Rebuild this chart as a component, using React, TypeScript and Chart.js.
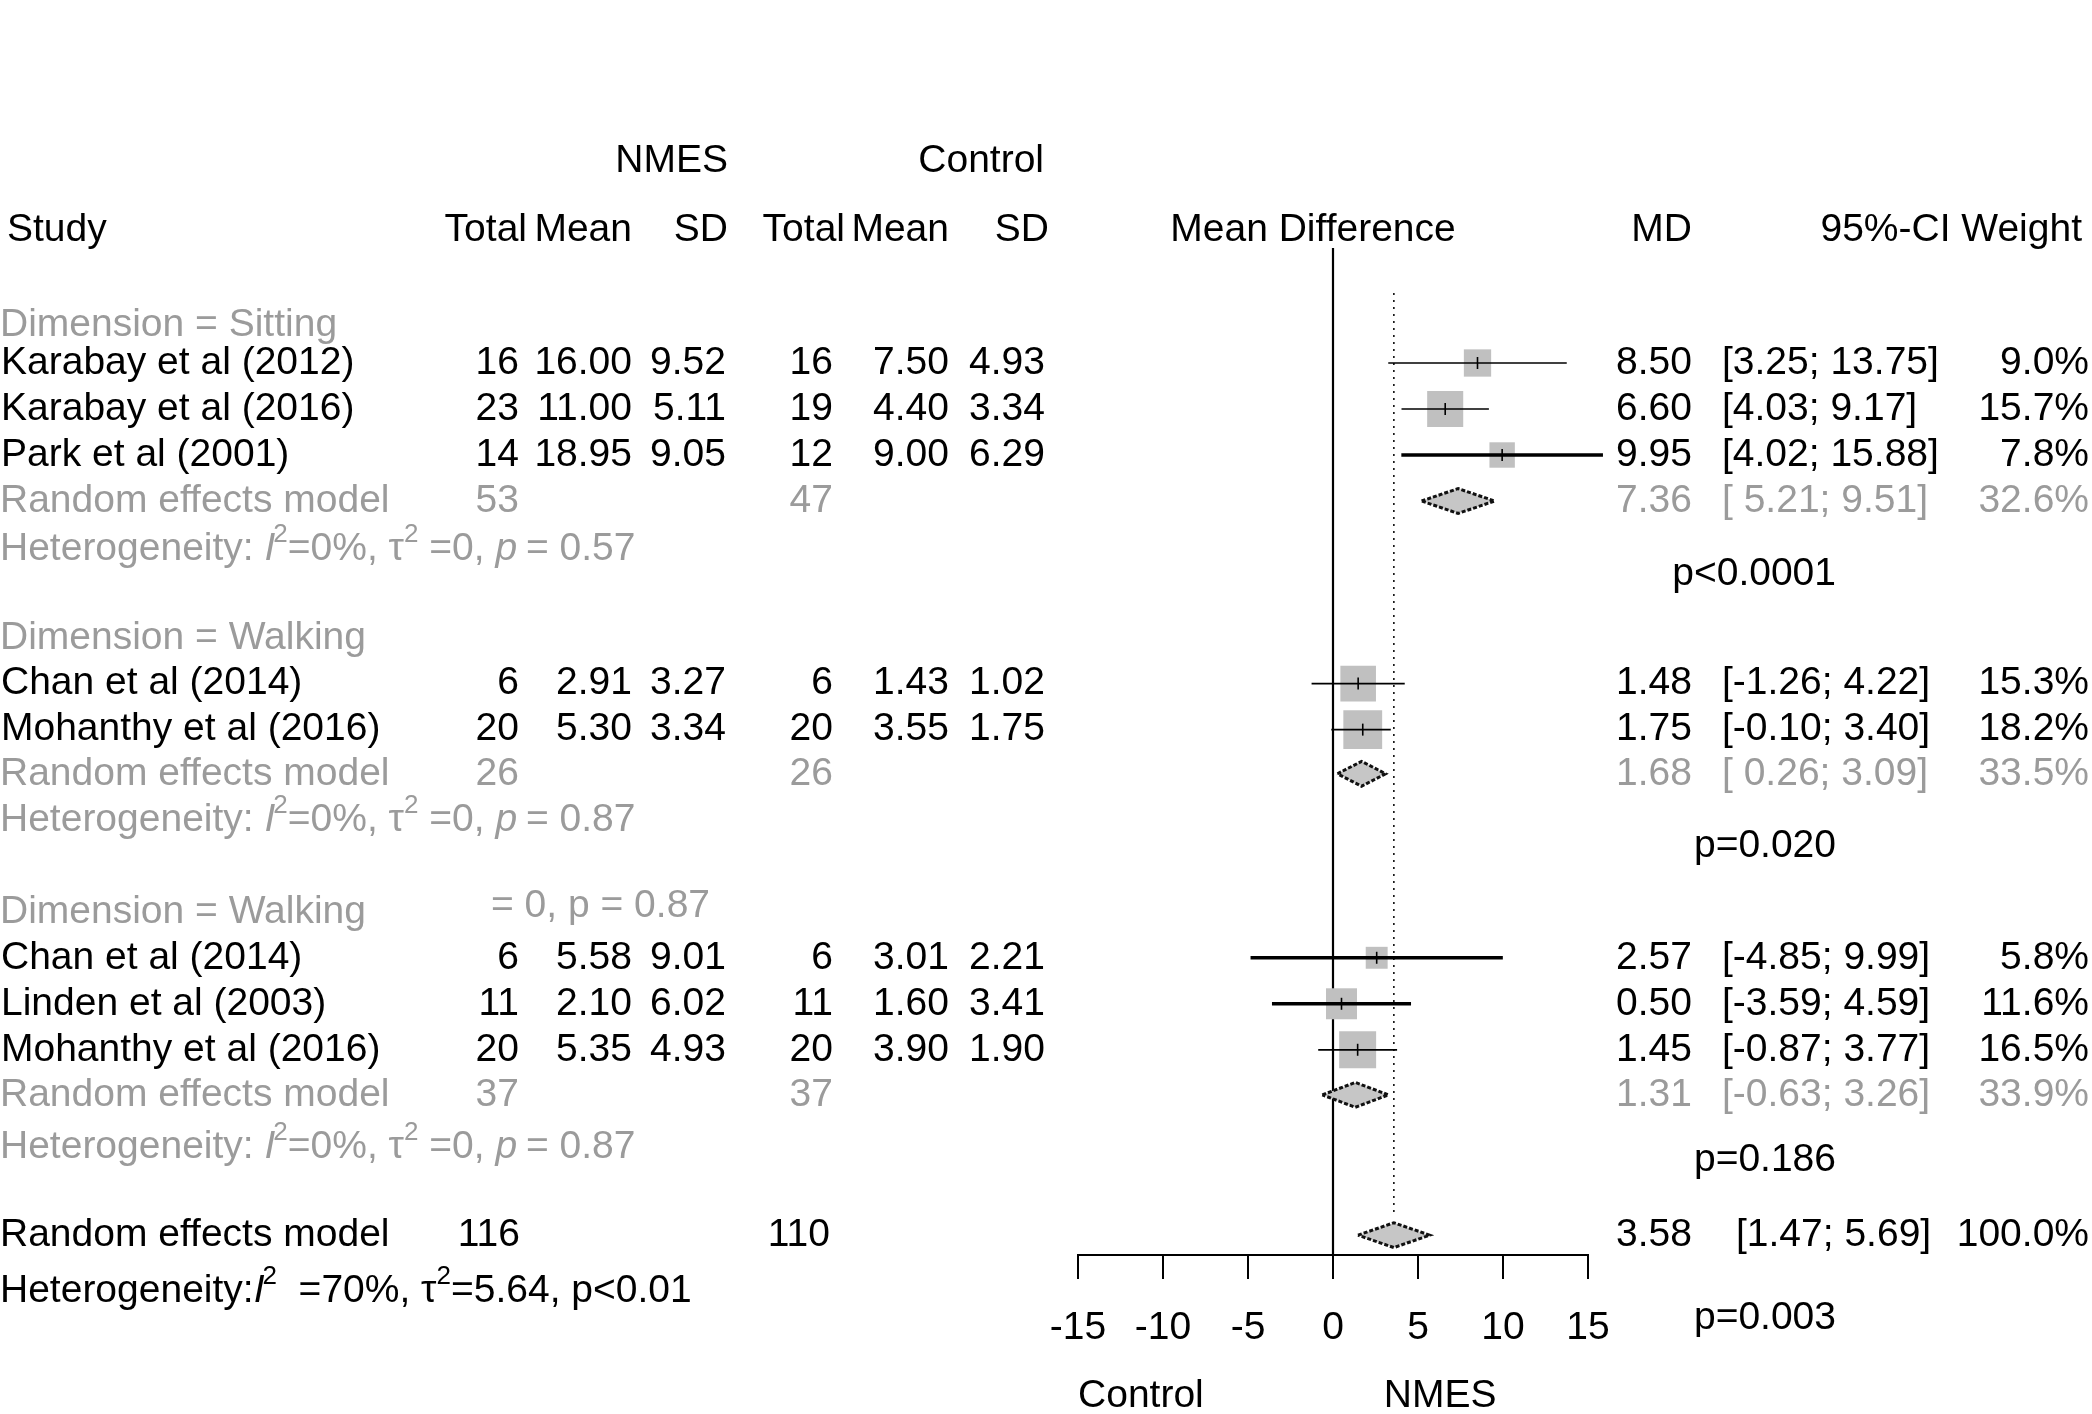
import React, { useEffect, useRef } from "react";
import { Chart, registerables } from "chart.js";

Chart.register(...registerables);

// ---------------- data ----------------
const groupLabels = ["Dimension = Sitting", "Dimension = Walking", "Dimension = Walking"];
const studyNames = [
  "Karabay et al (2012)",
  "Karabay et al (2016)",
  "Park et al (2001)",
  "Chan et al (2014)",
  "Mohanthy et al (2016)",
  "Chan et al (2014)",
  "Linden et al (2003)",
  "Mohanthy et al (2016)",
];
const studyGroup = [0, 0, 0, 1, 1, 2, 2, 2];
const nmesTotal = [16, 23, 14, 6, 20, 6, 11, 20];
const nmesMean = [16.0, 11.0, 18.95, 2.91, 5.3, 5.58, 2.1, 5.35];
const nmesSD = [9.52, 5.11, 9.05, 3.27, 3.34, 9.01, 6.02, 4.93];
const ctrlTotal = [16, 19, 12, 6, 20, 6, 11, 20];
const ctrlMean = [7.5, 4.4, 9.0, 1.43, 3.55, 3.01, 1.6, 3.9];
const ctrlSD = [4.93, 3.34, 6.29, 1.02, 1.75, 2.21, 3.41, 1.9];
const md = [8.5, 6.6, 9.95, 1.48, 1.75, 2.57, 0.5, 1.45];
const ciLow = [3.25, 4.03, 4.02, -1.26, -0.1, -4.85, -3.59, -0.87];
const ciHigh = [13.75, 9.17, 15.88, 4.22, 3.4, 9.99, 4.59, 3.77];
const weight = [9.0, 15.7, 7.8, 15.3, 18.2, 5.8, 11.6, 16.5];
const thickCI = [false, false, true, false, false, true, true, false];

const subNmesTotal = [53, 26, 37];
const subCtrlTotal = [47, 26, 37];
const subMd = [7.36, 1.68, 1.31];
const subLow = [5.21, 0.26, -0.63];
const subHigh = [9.51, 3.09, 3.26];
const subWeight = [32.6, 33.5, 33.9];
const subI2 = [0, 0, 0];
const subTau2 = [0, 0, 0];
const subHetP = ["0.57", "0.87", "0.87"];
const subPText = ["p<0.0001", "p=0.020", "p=0.186"];

const overallNmesTotal = 116;
const overallCtrlTotal = 110;
const overallMd = 3.58;
const overallLow = 1.47;
const overallHigh = 5.69;
const overallWeight = 100.0;
const overallI2 = 70;
const overallTau2 = 5.64;
const overallHetP = "p<0.01";
const overallPText = "p=0.003";

const xTicks = [-15, -10, -5, 0, 5, 10, 15];

// ---------------- layout ----------------
const W = 2092;
const H = 1414;
const FONT = '"Liberation Sans", Arial, Helvetica, sans-serif';
const FS = 39;
const GRAY = "#9b9b9b";
const ROW_PX = 46;
const ROW0_PX = 363;
const AXIS_PX = 1255;
const Y_MIN = -ROW0_PX / ROW_PX;
const Y_MAX = (AXIS_PX - ROW0_PX) / ROW_PX;

const groupLayout = [
  { header: -0.83, first: 0, rem: 3, het: 4.04, p: 4.59 },
  { header: 5.98, first: 6.97, rem: 8.93, het: 9.93, p: 10.5 },
  { header: 11.93, first: 12.93, rem: 15.91, het: 17.05, p: 17.34 },
];
const overallLayout = { rem: 18.96, het: 20.17, p: 20.77 };
const ROW_NMES_HDR = -4.38;
const ROW_HDR = -2.88;
const COL = {
  name: 1,
  nTot: 519,
  nMean: 632,
  nSD: 726,
  cTot: 833,
  cMean: 949,
  cSD: 1045,
  md: 1692,
  ci: 1722,
  ciOverall: 1736,
  w: 2089,
  p: 1836,
};

function studyRow(i: number) {
  const g = studyGroup[i];
  let k = 0;
  for (let j = 0; j < i; j++) if (studyGroup[j] === g) k++;
  return groupLayout[g].first + k;
}

const f2 = (v: number) => v.toFixed(2);

type Seg = { t: string; it?: boolean; sup?: boolean };

function hetSegs(i2: number, tau2: number, p: string): Seg[] {
  return [
    { t: "Heterogeneity: " },
    { t: "I", it: true },
    { t: "2", sup: true },
    { t: `=${i2}%, τ` },
    { t: "2", sup: true },
    { t: ` =${tau2}, ` },
    { t: "p", it: true },
    { t: ` = ${p}` },
  ];
}

function overallHetSegs(): Seg[] {
  return [
    { t: "Heterogeneity:" },
    { t: "I", it: true },
    { t: "2", sup: true },
    { t: `  =${overallI2}%, τ` },
    { t: "2", sup: true },
    { t: `=${overallTau2}, ${overallHetP}` },
  ];
}

const textPlugin = {
  id: "forestText",
  afterDraw(chart: any) {
    const ctx: CanvasRenderingContext2D = chart.ctx;
    const ys = chart.scales.y;
    const py = (r: number) => ys.getPixelForValue(r);
    ctx.save();
    ctx.textBaseline = "middle";
    const txt = (s: string, x: number, r: number, align: CanvasTextAlign, color = "#000") => {
      ctx.font = `${FS}px ${FONT}`;
      ctx.fillStyle = color;
      ctx.textAlign = align;
      ctx.fillText(s, x, py(r));
    };
    const rich = (segs: Seg[], x: number, r: number, color: string) => {
      let cx = x;
      ctx.textAlign = "left";
      ctx.fillStyle = color;
      for (const s of segs) {
        const size = s.sup ? Math.round(FS * 0.66) : FS;
        ctx.font = `${s.it ? "italic " : ""}${size}px ${FONT}`;
        const dy = s.sup ? -FS * 0.36 : 0;
        ctx.fillText(s.t, cx, py(r) + dy);
        cx += ctx.measureText(s.t).width - (s.it ? 2 : 0);
      }
    };

    // headers
    txt("NMES", COL.nSD + 2, ROW_NMES_HDR, "right");
    txt("Control", COL.cSD - 1, ROW_NMES_HDR, "right");
    txt("Study", 7, ROW_HDR, "left");
    txt("Total", 527, ROW_HDR, "right");
    txt("Mean", COL.nMean, ROW_HDR, "right");
    txt("SD", 728, ROW_HDR, "right");
    txt("Total", 845, ROW_HDR, "right");
    txt("Mean", COL.cMean, ROW_HDR, "right");
    txt("SD", 1049, ROW_HDR, "right");
    txt("Mean Difference", 1313, ROW_HDR, "center");
    txt("MD", COL.md, ROW_HDR, "right");
    txt("95%-CI Weight", 2082, ROW_HDR, "right");

    // groups
    groupLabels.forEach((lab, g) => {
      const L = groupLayout[g];
      txt(lab, 0, L.header, "left", GRAY);
      txt("Random effects model", 0, L.rem, "left", GRAY);
      txt(String(subNmesTotal[g]), COL.nTot, L.rem, "right", GRAY);
      txt(String(subCtrlTotal[g]), COL.cTot, L.rem, "right", GRAY);
      txt(f2(subMd[g]), COL.md, L.rem, "right", GRAY);
      txt(`[${f2(subLow[g]).padStart(5, " ")}; ${f2(subHigh[g])}]`, COL.ci, L.rem, "left", GRAY);
      txt(`${subWeight[g].toFixed(1)}%`, COL.w, L.rem, "right", GRAY);
      rich(hetSegs(subI2[g], subTau2[g], subHetP[g]), 0, L.het, GRAY);
      txt(subPText[g], COL.p, L.p, "right");
    });
    // stray fragment beside the third group header
    txt("= 0, p = 0.87", 491, groupLayout[2].header - 0.13, "left", GRAY);

    // studies
    studyNames.forEach((name, i) => {
      const r = studyRow(i);
      txt(name, COL.name, r, "left");
      txt(String(nmesTotal[i]), COL.nTot, r, "right");
      txt(f2(nmesMean[i]), COL.nMean, r, "right");
      txt(f2(nmesSD[i]), COL.nSD, r, "right");
      txt(String(ctrlTotal[i]), COL.cTot, r, "right");
      txt(f2(ctrlMean[i]), COL.cMean, r, "right");
      txt(f2(ctrlSD[i]), COL.cSD, r, "right");
      txt(f2(md[i]), COL.md, r, "right");
      txt(`[${f2(ciLow[i])}; ${f2(ciHigh[i])}]`, COL.ci, r, "left");
      txt(`${weight[i].toFixed(1)}%`, COL.w, r, "right");
    });

    // overall
    const O = overallLayout;
    txt("Random effects model", 0, O.rem, "left");
    txt(String(overallNmesTotal), 520, O.rem, "right");
    txt(String(overallCtrlTotal), 830, O.rem, "right");
    txt(f2(overallMd), COL.md, O.rem, "right");
    txt(`[${f2(overallLow)}; ${f2(overallHigh)}]`, COL.ciOverall, O.rem, "left");
    txt(`${overallWeight.toFixed(1)}%`, COL.w, O.rem, "right");
    rich(overallHetSegs(), 0, O.het, "#000");
    txt(overallPText, COL.p, O.p, "right");

    // axis side labels
    const xs = chart.scales.x;
    const axisLabelRow = Y_MAX + 3.06;
    txt("Control", xs.getPixelForValue(-11.3), axisLabelRow, "center");
    txt("NMES", xs.getPixelForValue(6.3), axisLabelRow, "center");
    ctx.restore();
  },
};

export default function App() {
  const ref = useRef<HTMLCanvasElement | null>(null);
  useEffect(() => {
    if (!ref.current) return;
    const studyPts = md.map((m, i) => ({ x: m, y: studyRow(i) }));
    const ciSets = md.map((_, i) => ({
      label: `ci${i}`,
      data: [
        { x: ciLow[i], y: studyRow(i) },
        { x: ciHigh[i], y: studyRow(i) },
      ],
      borderColor: "#000",
      borderWidth: thickCI[i] ? 3.6 : 1.7,
      pointRadius: 0,
      fill: false,
      clip: false as any,
      order: 4,
    }));
    const DH = 0.27;
    const diamond = (lo: number, m: number, hi: number, r: number, label: string) => ({
      label,
      data: [
        { x: lo, y: r },
        { x: m, y: r - DH },
        { x: hi, y: r },
        { x: m, y: r + DH },
        { x: lo, y: r },
      ],
      borderColor: "#111",
      borderWidth: 3,
      borderDash: [4, 2],
      backgroundColor: "#c6c6c6",
      fill: "shape",
      pointRadius: 0,
      clip: false as any,
      order: 4,
    });
    const diamonds = subMd.map((m, g) => diamond(subLow[g], m, subHigh[g], groupLayout[g].rem, `sub${g}`));
    diamonds.push(diamond(overallLow, overallMd, overallHigh, overallLayout.rem, "overall"));

    const chart = new Chart(ref.current, {
      type: "line",
      data: {
        datasets: [
          {
            label: "ticks",
            data: studyPts,
            showLine: false,
            pointStyle: "line",
            pointRotation: 90,
            pointRadius: 6,
            pointBorderWidth: 1.6,
            pointBorderColor: "#000",
            clip: false as any,
            order: 1,
          } as any,
          ...ciSets,
          ...diamonds,
          {
            label: "squares",
            data: studyPts,
            showLine: false,
            pointStyle: "rect",
            pointRadius: weight.map((w) => (9.1 * Math.sqrt(w)) / Math.SQRT2),
            pointBackgroundColor: "#c0c0c0",
            pointBorderWidth: 0,
            clip: false as any,
            order: 8,
          } as any,
          {
            label: "zero",
            data: [
              { x: 0, y: -2.5 },
              { x: 0, y: Y_MAX },
            ],
            borderColor: "#000",
            borderWidth: 2.2,
            pointRadius: 0,
            clip: false as any,
            order: 10,
          },
          {
            label: "overallRef",
            data: [
              { x: overallMd, y: -1.52 },
              { x: overallMd, y: 18.5 },
            ],
            borderColor: "#000",
            borderWidth: 1.5,
            borderDash: [2, 5],
            pointRadius: 0,
            clip: false as any,
            order: 10,
          },
        ] as any,
      },
      options: {
        animation: false,
        responsive: false,
        devicePixelRatio: 1,
        events: [],
        layout: { autoPadding: false, padding: { left: 1078, right: W - 1588, top: 0, bottom: 0 } },
        plugins: { legend: { display: false }, tooltip: { enabled: false } },
        scales: {
          x: {
            type: "linear",
            min: -15,
            max: 15,
            afterFit: (s: any) => {
              s.height = H - AXIS_PX;
            },
            afterBuildTicks: (s: any) => {
              s.ticks = xTicks.map((v) => ({ value: v }));
            },
            ticks: {
              autoSkip: false,
              maxRotation: 0,
              color: "#000",
              padding: 26,
              font: { size: FS, family: FONT },
            },
            grid: { drawOnChartArea: false, drawTicks: true, tickLength: 24, color: "#000", lineWidth: 2 },
            border: { display: true, color: "#000", width: 2 },
          },
          y: {
            type: "linear",
            reverse: true,
            min: Y_MIN,
            max: Y_MAX,
            display: false,
          },
        },
      } as any,
      plugins: [textPlugin],
    });
    return () => chart.destroy();
  }, []);

  return (
    <div style={{ position: "fixed", left: 0, top: 0, width: W, height: H, background: "#fff" }}>
      <canvas ref={ref} width={W} height={H} style={{ width: W, height: H, display: "block" }} />
    </div>
  );
}
